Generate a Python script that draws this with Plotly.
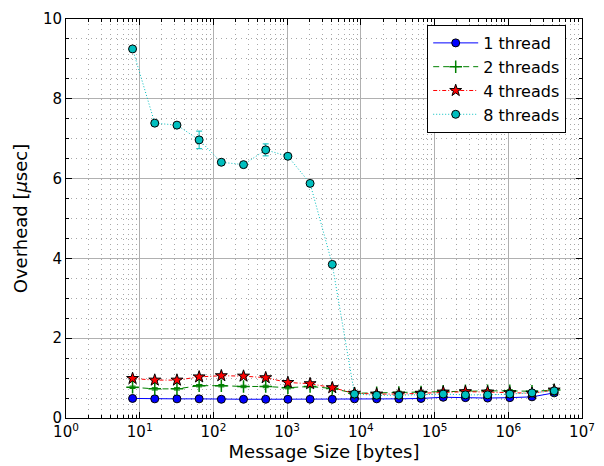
import plotly.graph_objects as go

sizes = [2**k for k in range(3, 23)]

t1 = [0.49, 0.48, 0.48, 0.48, 0.47, 0.47, 0.47, 0.47, 0.47, 0.47,
      0.48, 0.48, 0.48, 0.49, 0.52, 0.51, 0.50, 0.51, 0.53, 0.63]
t1_err = [0.02] * 20

t2 = [0.77, 0.73, 0.73, 0.81, 0.81, 0.79, 0.79, 0.76, 0.79, 0.74,
      0.62, 0.63, 0.64, 0.65, 0.67, 0.68, 0.68, 0.68, 0.67, 0.70]
t2_err = [0.03] * 20

t4 = [0.99, 0.95, 0.95, 1.03, 1.06, 1.05, 1.01, 0.89, 0.86, 0.76,
      0.62, 0.60, 0.60, 0.62, 0.65, 0.66, 0.65, 0.63, 0.62, 0.70]
t4_err = [0.03] * 20

t8 = [9.25, 7.39, 7.34, 6.97, 6.41, 6.35, 6.72, 6.56, 5.88, 3.85,
      0.60, 0.57, 0.57, 0.58, 0.60, 0.58, 0.58, 0.60, 0.63, 0.68]
t8_err = [0.03, 0.03, 0.03, 0.22, 0.06, 0.05, 0.15, 0.04, 0.03, 0.03,
          0.03, 0.03, 0.03, 0.03, 0.03, 0.03, 0.03, 0.03, 0.03, 0.03]

xtick_vals = [10**k for k in range(0, 8)]
xtick_text = [f"10<sup>{k}</sup>" for k in range(0, 8)]
ytick_vals = [0, 2, 4, 6, 8, 10]

fig = go.Figure()

def add(y, err, name, color, dash, symbol, msize, mline_color, mline_w, mcolor):
    fig.add_trace(go.Scatter(
        x=sizes, y=y, name=name, mode="lines+markers",
        line=dict(color=color, width=1, dash=dash),
        marker=dict(symbol=symbol, size=msize, color=mcolor,
                    line=dict(color=mline_color, width=mline_w)),
        error_y=dict(type="data", array=err, visible=True, color=color,
                     thickness=1, width=3),
    ))

add(t1, t1_err, "1 thread", "#0000FF", "solid", "circle", 8, "black", 1, "#0000FF")
add(t2, t2_err, "2 threads", "#008000", "6px,4px", "cross-thin", 9, "#008000", 1.5, "#008000")
add(t4, t4_err, "4 threads", "#FF0000", "4px,2px,1px,2px", "star", 9, "black", 1, "#FF0000")
add(t8, t8_err, "8 threads", "#00BFBF", "1px,2px", "circle", 8, "black", 1, "#00BFBF")

# page body has an 8px default margin, so the figure is sized to fit the window
fig.update_layout(
    width=596, height=458,
    margin=dict(l=58, r=22, t=11, b=48, autoexpand=False),
    paper_bgcolor="white", plot_bgcolor="white",
    font=dict(family="DejaVu Sans", size=15, color="black"),
    showlegend=True,
    legend=dict(x=0.70, y=0.985, xanchor="left", yanchor="top",
                bordercolor="black", borderwidth=1, bgcolor="white",
                font=dict(size=16), tracegroupgap=0, itemwidth=45),
)

fig.update_xaxes(
    type="log", range=[0, 7], automargin=False,
    tickvals=xtick_vals, ticktext=xtick_text,
    showline=True, linecolor="black", linewidth=1, mirror="allticks",
    ticks="inside", ticklen=6, tickcolor="black",
    showgrid=True, gridcolor="#b0b0b0", gridwidth=1,
    minor=dict(ticks="inside", ticklen=3, tickcolor="black",
               showgrid=True, gridcolor="#a8a8a8", griddash="1px,4px",
               dtick="D1"),
    title=dict(text="Message Size [bytes]", standoff=2),
    zeroline=False,
)
fig.update_yaxes(
    range=[0, 10], tickvals=ytick_vals, automargin=False,
    showline=True, linecolor="black", linewidth=1, mirror="allticks",
    ticks="inside", ticklen=6, tickcolor="black",
    showgrid=True, gridcolor="#b0b0b0", gridwidth=1,
    minor=dict(ticks="inside", ticklen=3, tickcolor="black", dtick=0.5,
               showgrid=True, gridcolor="#a8a8a8", griddash="1px,4px"),
    title=dict(text="Overhead [<i>μ</i>sec]", standoff=10),
    zeroline=False,
)

fig.write_html("out.html")
